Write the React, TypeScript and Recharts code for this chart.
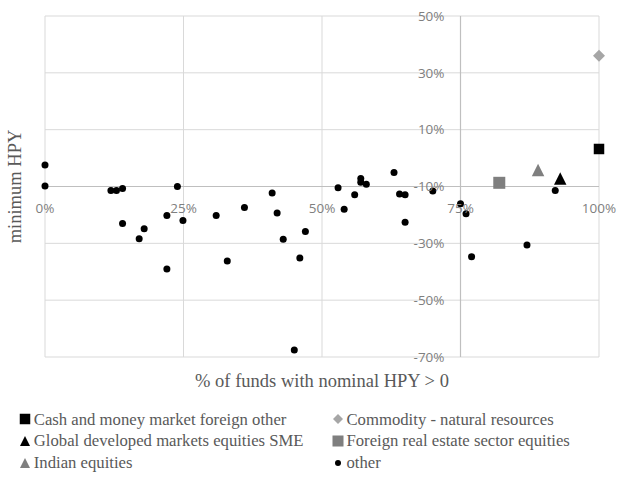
import { ScatterChart, Scatter, XAxis, YAxis, ReferenceLine, ReferenceDot, Label } from 'recharts';

const xTicks = [0, 25, 50, 75, 100];
const yTicks = [50, 30, 10, -10, -30, -50, -70];

// values in %
const cashMoneyMarket = [{ x: 100, y: 3.2 }];
const commodity = [{ x: 100, y: 36 }];
const globalSme = [{ x: 93, y: -7.2 }];
const foreignRealEstate = [{ x: 82, y: -8.7 }];
const indianEquities = [{ x: 89, y: -4.2 }];
const other = [
  { x: 0, y: -2.4 }, { x: 0, y: -9.8 }, { x: 11.9, y: -11.4 }, { x: 12.9, y: -11.4 },
  { x: 14, y: -10.7 }, { x: 23.9, y: -10 }, { x: 14, y: -23 }, { x: 17.9, y: -24.9 },
  { x: 17, y: -28.4 }, { x: 22, y: -20.2 }, { x: 24.9, y: -22 }, { x: 30.9, y: -20.2 },
  { x: 36, y: -17.4 }, { x: 41, y: -12.3 }, { x: 41.9, y: -19.3 }, { x: 43, y: -28.6 },
  { x: 47, y: -25.8 }, { x: 22, y: -39 }, { x: 32.9, y: -36.2 }, { x: 46, y: -35.2 },
  { x: 45, y: -67.5 }, { x: 52.9, y: -10.4 }, { x: 54, y: -18 }, { x: 55.9, y: -12.9 },
  { x: 57, y: -7.2 }, { x: 57, y: -8.5 }, { x: 58, y: -9.2 }, { x: 63, y: -5.1 },
  { x: 64, y: -12.6 }, { x: 65, y: -12.9 }, { x: 65, y: -22.6 }, { x: 70, y: -11.6 },
  { x: 75, y: -16.1 }, { x: 76, y: -19.6 }, { x: 77, y: -34.7 }, { x: 87, y: -30.6 },
  { x: 92.1, y: -11.4 },
];

type Kind = 'square' | 'diamond' | 'triangle' | 'circle';

// legend order (row-major, two columns)
const series: { name: string; data: { x: number; y: number }[]; kind: Kind; color: string; size: number; legendSize: number }[] = [
  { name: 'Cash and money market foreign other', data: cashMoneyMarket, kind: 'square', color: '#000000', size: 10.5, legendSize: 10.5 },
  { name: 'Commodity - natural resources', data: commodity, kind: 'diamond', color: '#a6a6a6', size: 12, legendSize: 10 },
  { name: 'Global developed markets equities SME', data: globalSme, kind: 'triangle', color: '#000000', size: 12.5, legendSize: 10 },
  { name: 'Foreign real estate sector equities', data: foreignRealEstate, kind: 'square', color: '#7f7f7f', size: 12, legendSize: 11 },
  { name: 'Indian equities', data: indianEquities, kind: 'triangle', color: '#7f7f7f', size: 12.5, legendSize: 10 },
  { name: 'other', data: other, kind: 'circle', color: '#000000', size: 7, legendSize: 6 },
];

const TICK_FONT = '"Open Sans", Lato, sans-serif';
const SERIF = '"Liberation Serif", "Times New Roman", serif';

function Marker({ cx, cy, kind, color, size }: { cx: number; cy: number; kind: Kind; color: string; size: number }) {
  const h = size / 2;
  if (kind === 'square') return <rect x={cx - h} y={cy - h} width={size} height={size} fill={color} />;
  if (kind === 'diamond')
    return <polygon points={`${cx},${cy - h} ${cx + h},${cy} ${cx},${cy + h} ${cx - h},${cy}`} fill={color} />;
  if (kind === 'triangle')
    return <polygon points={`${cx},${cy - h} ${cx + h},${cy + h} ${cx - h},${cy + h}`} fill={color} />;
  return <circle cx={cx} cy={cy} r={h} fill={color} />;
}

const tickLabelStyle = { fill: '#7f7f7f', fontSize: 13.5, fontFamily: TICK_FONT };

export default function App() {
  return (
    <div style={{ position: 'absolute', left: 0, top: 0, width: 620, height: 481, background: '#fff' }}>
      <ScatterChart width={620} height={481} margin={{ top: 16, right: 21, bottom: 84, left: 0 }}>
        <XAxis
          type="number" dataKey="x" domain={[0, 100]} ticks={xTicks}
          tick={false} tickLine={false} axisLine={false} height={40}
        >
          <Label
            value="% of funds with nominal HPY > 0" position="insideTop" offset={17}
            fill="#595959" fontSize={18.5} fontFamily={SERIF}
          />
        </XAxis>
        <YAxis
          type="number" dataKey="y" domain={[-70, 50]} ticks={yTicks}
          tick={false} tickLine={false} axisLine={false} width={45}
        >
          <Label
            content={({ viewBox }: any) => {
              const cx = viewBox.x + 15;
              const cy = viewBox.y + viewBox.height / 2;
              return (
                <text
                  x={cx} y={cy} transform={`rotate(-90 ${cx} ${cy})`} textAnchor="middle"
                  dominantBaseline="central" fill="#595959" fontSize={18.5} fontFamily={SERIF}
                >
                  minimum HPY
                </text>
              );
            }}
          />
        </YAxis>
        {/* gridlines */}
        {yTicks.map((v) => (
          <ReferenceLine key={'gy' + v} y={v} stroke="#d9d9d9" strokeWidth={1} />
        ))}
        {xTicks.map((v) => (
          <ReferenceLine key={'gx' + v} x={v} stroke="#d9d9d9" strokeWidth={1} />
        ))}
        {/* axes cross at x = 75%, y = -10% */}
        <ReferenceLine x={75} stroke="#bfbfbf" strokeWidth={1.2} />
        <ReferenceLine y={-10} stroke="#bfbfbf" strokeWidth={1.2} />
        {yTicks.map((v) => (
          <ReferenceDot
            key={'y' + v} x={75} y={v} r={1} fill="none" stroke="none"
            label={{ value: `${v}%`, position: 'left', offset: 15, ...tickLabelStyle }}
          />
        ))}
        {xTicks.map((v) => (
          <ReferenceDot
            key={'x' + v} x={v} y={-10} r={1} fill="none" stroke="none"
            label={{ value: `${v}%`, position: 'bottom', offset: 16, ...tickLabelStyle }}
          />
        ))}
        {series.map((s) => (
          <Scatter
            key={s.name} name={s.name} data={s.data} isAnimationActive={false}
            shape={(p: any) => <Marker cx={p.cx} cy={p.cy} kind={s.kind} color={s.color} size={s.size} />}
          />
        ))}
      </ScatterChart>
      <div
        style={{
          position: 'absolute', left: 19.3, top: 408.5, display: 'grid',
          gridTemplateColumns: '312.7px 280px', fontFamily: SERIF, fontSize: 16.7,
          lineHeight: '21.7px', color: '#595959', whiteSpace: 'nowrap',
        }}
      >
        {series.map((s) => (
          <div key={s.name} style={{ display: 'flex', alignItems: 'center', height: 21.7 }}>
            <svg width={12} height={12} style={{ marginRight: 2.5, flex: 'none' }}>
              <Marker cx={6} cy={6} kind={s.kind} color={s.color} size={s.legendSize} />
            </svg>
            <span>{s.name}</span>
          </div>
        ))}
      </div>
    </div>
  );
}
